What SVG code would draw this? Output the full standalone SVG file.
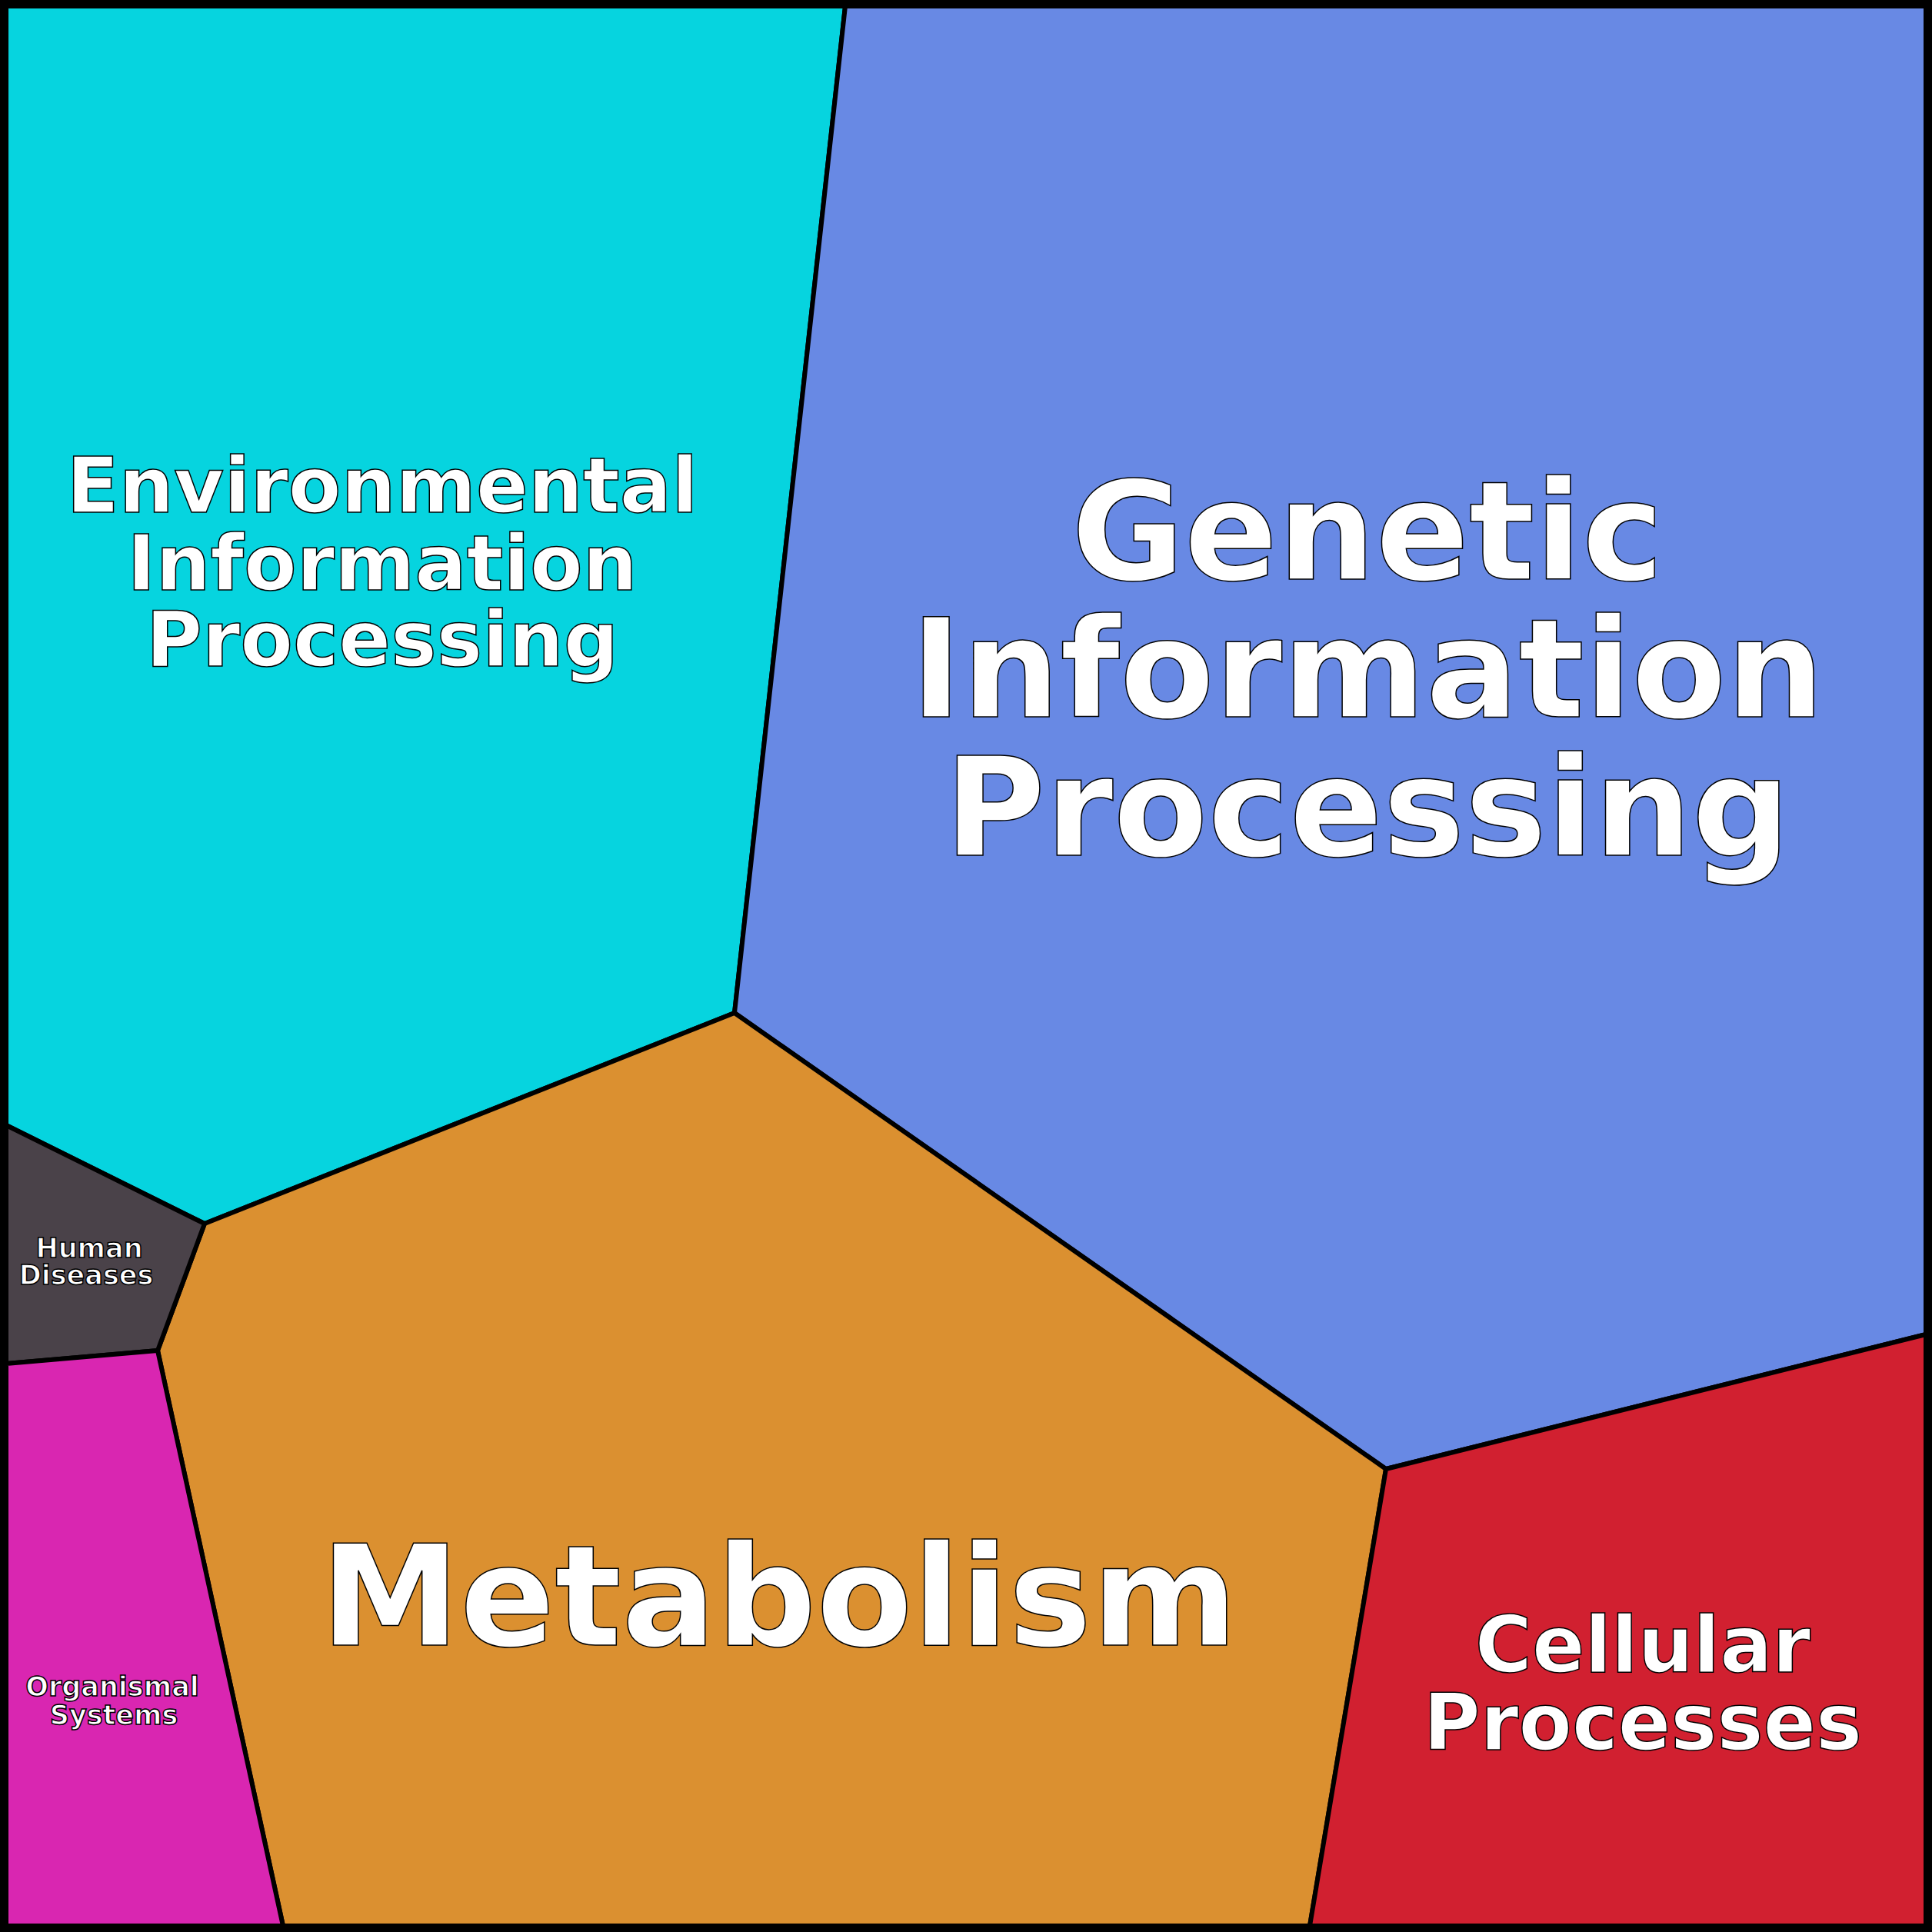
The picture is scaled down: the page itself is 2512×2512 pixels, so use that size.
<svg xmlns="http://www.w3.org/2000/svg" width="2512" height="2512" viewBox="0 0 2512 2512">
<style>
.r{stroke:#000;stroke-width:6;stroke-linejoin:round}
.t{font-family:"DejaVu Sans",sans-serif;font-weight:bold;fill:#fff;stroke:#000;stroke-width:1.5;text-anchor:middle}
</style>
<g id="env"><polygon class="r" fill="#06D4DF" points="8,8 1099,8 955,1317 266,1591 8,1463"/>
<text class="t" font-size="100" x="497" y="666">Environmental</text><text class="t" font-size="100" x="497" y="767">Information</text><text class="t" font-size="100" x="497" y="866">Processing</text></g>
<g id="gen"><polygon class="r" fill="#6889E4" points="1099,8 2504,8 2504,1735 1802,1910 955,1317"/>
<text class="t" font-size="179" x="1778" y="753">Genetic</text><text class="t" font-size="179" x="1778" y="932">Information</text><text class="t" font-size="179" x="1778" y="1112">Processing</text></g>
<g id="met"><polygon class="r" fill="#DB9030" points="955,1317 1802,1910 1703,2504 368,2504 205,1756 266,1591"/>
<text class="t" font-size="182" x="1013" y="2139">Metabolism</text></g>
<g id="cell"><polygon class="r" fill="#D12030" points="1802,1910 2504,1735 2504,2504 1703,2504"/>
<text class="t" font-size="101" x="2136" y="2174">Cellular</text><text class="t" font-size="101" x="2136" y="2275">Processes</text></g>
<g id="hum"><polygon class="r" fill="#4A4249" points="8,1463 266,1591 205,1756 8,1773"/>
<text class="t" font-size="35" stroke-width="1" x="116" y="1635">Human</text><text class="t" font-size="35" stroke-width="1" x="112" y="1670">Diseases</text></g>
<g id="org"><polygon class="r" fill="#D926B1" points="8,1773 205,1756 368,2504 8,2504"/>
<text class="t" font-size="35" stroke-width="1" x="146" y="2205">Organismal</text><text class="t" font-size="35" stroke-width="1" x="148" y="2242">Systems</text></g>
<g id="connectors"></g>
<rect x="5" y="5" width="2502" height="2502" fill="none" stroke="#000" stroke-width="10"/>
</svg>
